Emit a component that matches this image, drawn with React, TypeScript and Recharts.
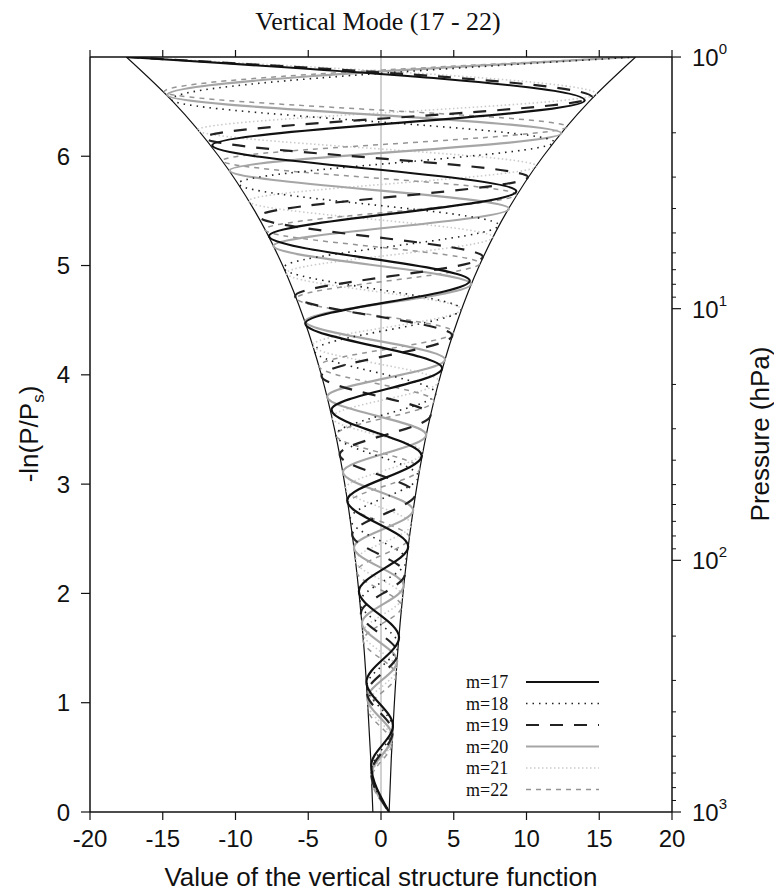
import React from "react";
import { LineChart, Line, XAxis, YAxis, ReferenceLine } from "recharts";

// turning points of each mode, top to bottom: [ -ln(P/Ps), value ]
const m17: [number, number][] = [
  [6.908, -17.5], [6.51, 14.0], [6.1, -11.6], [5.68, 9.3], [5.27, -7.7], [4.86, 6.1],
  [4.47, -5.2], [4.06, 4.2], [3.68, -3.4], [3.26, 2.8], [2.85, -2.32], [2.43, 1.87],
  [2.02, -1.52], [1.6, 1.24], [1.19, -1.0], [0.79, 0.82], [0.43, -0.67], [0, 0.56],
];
const m18: [number, number][] = [
  [6.908, 17.5], [6.52, -14.4], [6.13, 11.9], [5.75, -9.8], [5.37, 8.1], [4.98, -6.7],
  [4.6, 5.5], [4.22, -4.57], [3.83, 3.77], [3.45, -3.11], [3.07, 2.57], [2.68, -2.12],
  [2.3, 1.75], [1.92, -1.45], [1.53, 1.19], [1.15, -0.99], [0.77, 0.81], [0.38, -0.67], [0, 0.56],
];
const m19: [number, number][] = [
  [6.908, -17.5], [6.54, 14.5], [6.17, -12.1], [5.81, 10.1], [5.45, -8.4], [5.08, 7.0],
  [4.72, -5.9], [4.36, 4.9], [3.99, -4.09], [3.63, 3.41], [3.27, -2.84], [2.91, 2.37],
  [2.54, -1.98], [2.18, 1.65], [1.82, -1.38], [1.45, 1.15], [1.09, -0.96], [0.73, 0.8],
  [0.36, -0.67], [0, 0.56],
];
const m20: [number, number][] = [
  [6.908, 17.5], [6.56, -14.7], [6.21, 12.4], [5.87, -10.4], [5.52, 8.8], [5.18, -7.4],
  [4.83, 6.2], [4.49, -5.2], [4.14, 4.4], [3.8, -3.7], [3.45, 3.11], [3.11, -2.62],
  [2.76, 2.21], [2.42, -1.86], [2.07, 1.56], [1.73, -1.31], [1.38, 1.11], [1.04, -0.93],
  [0.69, 0.78], [0.35, -0.66], [0, 0.56],
];
const m21: [number, number][] = [
  [6.908, -17.5], [6.57, 14.8], [6.24, -12.6], [5.91, 10.7], [5.59, -9.1], [5.26, 7.7],
  [4.93, -6.5], [4.6, 5.5], [4.27, -4.7], [3.94, 3.99], [3.61, -3.38], [3.29, 2.87],
  [2.96, -2.43], [2.63, 2.07], [2.3, -1.75], [1.97, 1.49], [1.64, -1.26], [1.31, 1.07],
  [0.99, -0.91], [0.66, 0.77], [0.33, -0.65], [0, 0.56],
];
const m22: [number, number][] = [
  [6.908, 17.5], [6.59, -14.9], [6.27, 12.8], [5.96, -10.9], [5.65, 9.3], [5.33, -8.0],
  [5.02, 6.8], [4.7, -5.8], [4.39, 5.0], [4.08, -4.26], [3.76, 3.64], [3.45, -3.11],
  [3.14, 2.66], [2.82, -2.28], [2.51, 1.95], [2.2, -1.66], [1.88, 1.42], [1.57, -1.22],
  [1.25, 1.04], [0.94, -0.89], [0.63, 0.76], [0.31, -0.65], [0, 0.56],
];

const envelopeRight: [number, number][] = [
  [6.908, 17.5], [6.5, 14.3], [6, 11.15], [5.5, 8.68], [5, 6.76], [4.5, 5.27], [4, 4.1],
  [3.5, 3.19], [3, 2.49], [2.5, 1.94], [2, 1.51], [1.5, 1.17], [1, 0.92], [0.5, 0.71], [0, 0.56],
];
const envelopeLeft: [number, number][] = [
  [6.908, -17.5], [6.5, -14.3], [6, -11.15], [5.5, -8.68], [5, -6.76], [4.5, -5.27], [4, -4.1],
  [3.5, -3.19], [3, -2.49], [2.5, -1.94], [2, -1.51], [1.5, -1.17], [1, -0.92], [0.5, -0.71], [0, -0.56],
];

const modeLabels = ["m=17", "m=18", "m=19", "m=20", "m=21", "m=22"];
const xTicks = [-20, -15, -10, -5, 0, 5, 10, 15, 20];
const yTicks = [0, 1, 2, 3, 4, 5, 6];
const pressureMajor = [1, 10, 100, 1000];
const pressureExp = ["0", "1", "2", "3"];
const pressureMinor = [2, 3, 4, 5, 6, 7, 8, 9, 20, 30, 40, 50, 60, 70, 80, 90, 200, 300, 400, 500, 600, 700, 800, 900];

const SANS = "'Liberation Sans', Arial, Helvetica, sans-serif";
const SERIF = "'Liberation Serif', 'Times New Roman', serif";
const INK = "#111";

const rows = (pts: [number, number][]) => pts.map(([y, x]) => ({ y, x }));
const toLevel = (p: number) => Math.log(1000 / p);
const rightTicks = [...pressureMajor, ...pressureMinor].map(toLevel);

const modes = [
  { label: modeLabels[0], pts: m17, stroke: "#111", width: 2.2, dash: undefined },
  { label: modeLabels[1], pts: m18, stroke: "#222", width: 1.6, dash: "1.5 5" },
  { label: modeLabels[2], pts: m19, stroke: "#222", width: 2.2, dash: "13 11" },
  { label: modeLabels[3], pts: m20, stroke: "#a6a6a6", width: 2.2, dash: undefined },
  { label: modeLabels[4], pts: m21, stroke: "#cbcbcb", width: 1.6, dash: "1.5 2.5" },
  { label: modeLabels[5], pts: m22, stroke: "#959595", width: 1.5, dash: "5 5" },
];
const drawOrder = [4, 5, 3, 1, 2, 0];

function PressureTick(props: any) {
  const { x, y, payload } = props;
  const i = pressureMajor.findIndex((p) => Math.abs(toLevel(p) - payload.value) < 1e-6);
  if (i < 0) {
    return <line x1={x} y1={y} x2={x + 4} y2={y} stroke={INK} strokeWidth={1} />;
  }
  return (
    <g>
      <line x1={x} y1={y} x2={x + 9} y2={y} stroke={INK} strokeWidth={1.2} />
      <text x={x + 20} y={y + 9} fontSize={24} fontFamily={SANS} fill={INK}>
        10
        <tspan dy={-12} fontSize={15}>{pressureExp[i]}</tspan>
      </text>
    </g>
  );
}

export default function App() {
  const W = 766;
  const H = 884;
  return (
    <div style={{ position: "relative", width: W, height: H }}>
      <LineChart
        layout="vertical"
        width={W}
        height={H}
        margin={{ top: 39, right: 42, bottom: 40, left: 42 }}
      >
        <XAxis
          xAxisId="b"
          type="number"
          orientation="bottom"
          domain={[-20, 20]}
          ticks={xTicks}
          allowDataOverflow
          interval={0}
          height={40}
          tickSize={8}
          tickMargin={10}
          axisLine={{ stroke: INK, strokeWidth: 1.5 }}
          tickLine={{ stroke: INK, strokeWidth: 1.2 }}
          tick={{ fontSize: 24, fill: INK, fontFamily: SANS }}
        />
        <XAxis
          xAxisId="t"
          type="number"
          orientation="top"
          domain={[-20, 20]}
          ticks={xTicks}
          allowDataOverflow
          interval={0}
          height={10}
          tickSize={7}
          tickFormatter={() => ""}
          axisLine={{ stroke: INK, strokeWidth: 1.5 }}
          tickLine={{ stroke: INK, strokeWidth: 1.2 }}
        />
        <YAxis
          yAxisId="l"
          type="number"
          dataKey="y"
          domain={[0, 6.908]}
          reversed
          ticks={yTicks}
          allowDataOverflow
          interval={0}
          width={40}
          tickSize={9}
          tickMargin={11}
          axisLine={{ stroke: INK, strokeWidth: 1.5 }}
          tickLine={{ stroke: INK, strokeWidth: 1.2 }}
          tick={{ fontSize: 24, fill: INK, fontFamily: SANS }}
        />
        <YAxis
          yAxisId="r"
          type="number"
          dataKey="y"
          orientation="right"
          domain={[0, 6.908]}
          reversed
          ticks={rightTicks}
          allowDataOverflow
          interval={0}
          width={60}
          tickSize={0}
          tickMargin={0}
          tickLine={false}
          axisLine={{ stroke: INK, strokeWidth: 1.5 }}
          tick={(p: any) => <PressureTick {...p} />}
        />
        <ReferenceLine x={0} xAxisId="b" yAxisId="l" stroke="#8c8c8c" strokeWidth={0.8} />
        <Line
          data={rows(envelopeLeft)}
          dataKey="x"
          xAxisId="t"
          yAxisId="r"
          type="monotone"
          stroke={INK}
          strokeWidth={1.2}
          dot={false}
          activeDot={false}
          isAnimationActive={false}
        />
        <Line
          data={rows(envelopeRight)}
          dataKey="x"
          xAxisId="t"
          yAxisId="r"
          type="monotone"
          stroke={INK}
          strokeWidth={1.2}
          dot={false}
          activeDot={false}
          isAnimationActive={false}
        />
        {drawOrder.map((i) => (
          <Line
            key={modes[i].label}
            data={rows(modes[i].pts)}
            dataKey="x"
            xAxisId="b"
            yAxisId="l"
            type="monotone"
            stroke={modes[i].stroke}
            strokeWidth={modes[i].width}
            strokeDasharray={modes[i].dash}
            dot={false}
            activeDot={false}
            isAnimationActive={false}
          />
        ))}
      </LineChart>

      <svg
        width={W}
        height={H}
        style={{ position: "absolute", left: 0, top: 0, pointerEvents: "none" }}
      >
        <text x={370} y={22} textAnchor="middle" fontSize={26} fontFamily={SERIF} fill={INK}>
          Vertical Mode (17 - 22)
        </text>
        <text x={373} y={878} textAnchor="middle" fontSize={26} fontFamily={SANS} fill={INK}>
          Value of the vertical structure function
        </text>
        <text
          transform="translate(30 426) rotate(-90)"
          textAnchor="middle"
          fontSize={26}
          fontFamily={SANS}
          fill={INK}
        >
          -ln(P/P
          <tspan dy={6} fontSize={17}>s</tspan>
          <tspan dy={-6}>)</tspan>
        </text>
        <text
          transform="translate(761 426) rotate(-90)"
          textAnchor="middle"
          fontSize={26}
          fontFamily={SANS}
          fill={INK}
        >
          Pressure (hPa)
        </text>
        {modes.map((m, i) => {
          const cy = 674 + i * 21.5;
          return (
            <g key={m.label}>
              <text x={458} y={cy + 6} fontSize={18} fontFamily={SERIF} fill={INK}>
                {m.label}
              </text>
              <line
                x1={518}
                x2={591}
                y1={cy}
                y2={cy}
                stroke={m.stroke}
                strokeWidth={m.width}
                strokeDasharray={m.dash}
              />
            </g>
          );
        })}
      </svg>
    </div>
  );
}
